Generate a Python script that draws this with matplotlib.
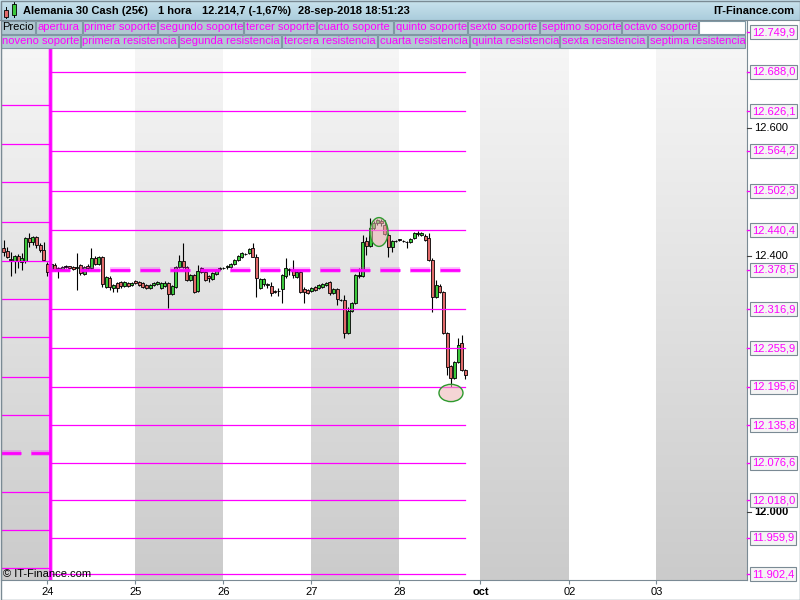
import matplotlib
matplotlib.use("Agg")
import matplotlib.pyplot as plt
import matplotlib.transforms as mtransforms
from matplotlib.patches import Rectangle, Ellipse
from matplotlib.colors import LinearSegmentedColormap
import numpy as np

plt.rcParams['font.family'] = ['Liberation Sans', 'DejaVu Sans']
plt.rcParams['lines.scale_dashes'] = False

# ---- data (hourly candles, hour 0 = 24-sep 00:00) ----
hours = list(range(-12, 115))
opens = [12412.5, 12408, 12395, 12392, 12400, 12391, 12392, 12428, 12422, 12430, 12417, 12409,
         12387.5, 12378, 12386, 12381, 12380, 12383, 12384, 12383, 12381, 12386, 12372, 12384,
         12381, 12397, 12387.5, 12398, 12352, 12366, 12350, 12358, 12359, 12353, 12358, 12355,
         12361, 12359, 12358, 12355, 12350, 12355, 12356, 12350, 12353, 12358, 12341, 12352,
         12383, 12392, 12383, 12362.5, 12370, 12345, 12381, 12375, 12369, 12364, 12372, 12380,
         12381, 12383, 12383, 12387.5, 12394, 12398, 12403, 12405, 12412.5, 12398, 12350, 12356,
         12355, 12353, 12345, 12345, 12348, 12369, 12378, 12378, 12367, 12375, 12348, 12347,
         12345, 12352, 12350, 12352, 12355, 12359, 12342, 12348, 12331, 12331, 12280, 12314,
         12327, 12369, 12369, 12423, 12416, 12444, 12452, 12455, 12448, 12433, 12414, 12423,
         12425, 12423, 12422, 12422, 12428, 12434, 12433, 12431, 12428, 12394, 12336, 12353,
         12344, 12280, 12228, 12209, 12234, 12264, 12222]
closes = [12406, 12398, 12394, 12400, 12392, 12397, 12428, 12422, 12430, 12417, 12409, 12394,
          12375, 12387.5, 12378, 12378, 12383, 12383.5, 12381, 12380, 12383, 12373, 12383, 12381,
          12397, 12387.5, 12398, 12356, 12367, 12352, 12355, 12350, 12353, 12359, 12353, 12358,
          12358, 12355, 12352, 12350, 12355, 12358, 12359, 12358, 12358, 12341, 12353, 12383,
          12392, 12383, 12362.5, 12370, 12344, 12377, 12375, 12362.5, 12366, 12373, 12378, 12381,
          12381.5, 12384, 12387.5, 12394, 12400, 12405, 12403.5, 12411, 12398, 12366, 12364, 12364,
          12356, 12342, 12344, 12345.5, 12370, 12381, 12380, 12370, 12375, 12344, 12344, 12342,
          12350, 12347, 12355, 12356, 12358, 12342, 12348, 12333, 12331.5, 12280, 12314, 12327,
          12370, 12369.5, 12422, 12416, 12444, 12452, 12456, 12452, 12434, 12414, 12423, 12423.5,
          12425.5, 12424, 12421.5, 12427, 12436, 12436, 12436, 12425, 12394, 12336, 12355, 12344,
          12280, 12227, 12209, 12234, 12261, 12222, 12214.7]
highs = [12425, 12414, 12406, 12402, 12403, 12405, 12430, 12436, 12431, 12431, 12420, 12422,
         12391, 12389, 12389, 12383, 12384, 12386, 12385, 12385, 12405, 12387.5, 12384, 12387.5,
         12412.5, 12400, 12400, 12400, 12369, 12369, 12356, 12359, 12361, 12361, 12359, 12359,
         12362, 12361, 12359, 12356, 12356, 12359, 12361, 12359, 12361, 12359, 12355, 12384,
         12402, 12420, 12384, 12372, 12372, 12386, 12383, 12377, 12370, 12375, 12380, 12383,
         12383, 12386, 12389, 12395, 12401, 12406, 12405, 12412, 12420, 12403, 12366, 12366,
         12358, 12359, 12347, 12350, 12372, 12397, 12381, 12394, 12377, 12377, 12352, 12348,
         12352, 12353, 12356, 12358, 12359, 12361, 12350, 12350, 12333, 12339, 12320, 12328,
         12372, 12381, 12433, 12430, 12459, 12455, 12458, 12458, 12456, 12436, 12425, 12425,
         12427, 12425, 12423, 12428, 12437.5, 12439, 12437.5, 12434, 12436, 12397, 12362.5, 12356,
         12345, 12281, 12230, 12236, 12272, 12277, 12223.5]
lows = [12400, 12397, 12369, 12373, 12381, 12378, 12389, 12414, 12417, 12412.5, 12406, 12392,
        12369, 12377, 12377, 12366, 12378, 12381, 12380, 12378, 12347, 12370, 12370, 12378,
        12380, 12386, 12386, 12352, 12350, 12347, 12344, 12344, 12350, 12352, 12352, 12353,
        12356, 12353, 12350, 12349, 12348, 12353, 12355, 12348, 12352, 12319, 12339, 12350,
        12381, 12381, 12361, 12361, 12342, 12344, 12373, 12361, 12359, 12362.5, 12370, 12378,
        12380, 12380, 12381, 12386, 12392, 12397, 12401, 12403, 12398, 12336, 12348, 12353,
        12350, 12337.5, 12342, 12337.5, 12327, 12366, 12370, 12366, 12366, 12342, 12327, 12341,
        12344, 12345, 12348, 12350, 12353, 12339, 12341, 12323, 12330, 12272, 12278, 12312.5,
        12325, 12366, 12367, 12402, 12414, 12441, 12448, 12447, 12433, 12398, 12406, 12422,
        12423, 12422, 12412.5, 12420, 12427, 12431, 12431, 12423, 12392, 12312.5, 12334, 12342,
        12278, 12214, 12195, 12208, 12233, 12220, 12208]

# pivot levels of the current week and of the previous one
apertura = 12378.5
resistencias = [12440.4, 12502.3, 12564.2, 12626.1, 12688.0, 12749.9, 12811.8]
soportes = [12316.9, 12255.9, 12195.6, 12135.8, 12076.6, 12018.0, 11959.9, 11902.4, 11845.0]
prev_apertura = 12091.7
prev_levels = [12635.2, 12575.0, 12515.6, 12453.9, 12392.5, 12333.0, 12272.8,
               12211.4, 12150.9, 12031.3, 11971.9, 11912.5]

price_ticks = [12000, 12400, 12600]
day_ticks = [0, 1, 2, 3, 4, 4.92, 5.93, 6.92]
day_labels = ['24', '25', '26', '27', '28', 'oct', '02', '03']

touch_x = [3.767, 4.585]
touch_y = [12437.5, 12186.0]

title_parts = ['Alemania 30 Cash (25€)', '1 hora', '12.214,7 (-1,67%)', '28-sep-2018 18:51:23']
legend_row1 = ['Precio', 'apertura', 'primer soporte', 'segundo soporte', 'tercer soporte',
               'cuarto soporte', 'quinto soporte', 'sexto soporte', 'septimo soporte', 'octavo soporte']
legend_row2 = ['noveno soporte', 'primera resistencia', 'segunda resistencia', 'tercera resistencia',
               'cuarta resistencia', 'quinta resistencia', 'sexta resistencia', 'septima resistencia']

MAG = '#ff00ff'
GRAY = '#7a8a94'


def fmt_level(v):
    return '{:,.1f}'.format(v).replace(',', 'X').replace('.', ',').replace('X', '.')


W, H = 800, 600
fig = plt.figure(figsize=(8, 6), dpi=100)
fig.patch.set_facecolor('white')
ax = fig.add_axes([1 / W, 20 / H, 746 / W, 560 / H])

xl, xr = (1 - 47.5) / 88, (747 - 47.5) / 88
ylo, yhi = 11893.75, 12768.75

# alternating day columns, grey ones with vertical gradient
cmap = LinearSegmentedColormap.from_list('bg', ['#cbcbcb', '#f8f8f8'])
grad = np.linspace(0, 1, 256).reshape(-1, 1)
bounds = [xl] + day_ticks + [xr]
for i in range(len(bounds) - 1):
    if i % 2 == 0:
        ax.imshow(grad, extent=[bounds[i], bounds[i + 1], ylo, yhi], origin='lower',
                  aspect='auto', cmap=cmap, zorder=0)

# candles
xs = np.array(hours) / 24.0
o = np.array(opens)
c = np.array(closes)
hi = np.maximum(np.array(highs), np.maximum(o, c))
lo = np.minimum(np.array(lows), np.minimum(o, c))
cols = ['#3cc83c' if cc > oo + 0.6 else ('#e06a6a' if cc < oo - 0.6 else 'black') for oo, cc in zip(o, c)]
ax.vlines(xs, lo, hi, color='black', lw=0.8, zorder=3)
ax.bar(xs, np.maximum(np.abs(c - o), 0.8), bottom=np.minimum(o, c), width=0.034,
       color=cols, edgecolor='black', linewidth=0.6, zorder=4)

# pivot lines
x_sw = 0.03
x_end = xs[-1]
for v in resistencias + soportes:
    ax.plot([x_sw, x_end], [v, v], color=MAG, lw=0.9, zorder=5)
for v in prev_levels:
    ax.plot([xl, x_sw], [v, v], color=MAG, lw=0.9, zorder=5)
for (a, b), v in [((x_sw, x_end), apertura), ((xl, x_sw), prev_apertura)]:
    ax.plot([a, b], [v, v], color=MAG, lw=4, alpha=0.3, dashes=(14.4, 7.2), zorder=5)
    ax.plot([a, b], [v, v], color=MAG, lw=2, dashes=(14.4, 7.2), zorder=5)
ax.axvline(x_sw, color=MAG, lw=3.5, alpha=0.35, zorder=5)
ax.axvline(x_sw, color=MAG, lw=2, zorder=5)

# circled touches
for tx, ty, w, h in zip(touch_x, touch_y, [0.205, 0.273], [45, 27]):
    ax.add_patch(Ellipse((tx, ty), w, h, facecolor=(0.93, 0.7, 0.7, 0.55),
                         edgecolor='#2e9a2e', lw=1, zorder=6))

ax.set_xlim(xl, xr)
ax.set_ylim(ylo, yhi)

# axes styling
for s in ax.spines.values():
    s.set_color(GRAY)
ax.set_yticks([])
ax.set_xticks(day_ticks)
ax.set_xticklabels(day_labels, fontsize=8)
for t in ax.get_xticklabels():
    if t.get_text() == 'oct':
        t.set_fontweight('bold')
ax.tick_params(axis='x', length=3, color=GRAY, pad=2)

# right price scale
trans = mtransforms.blended_transform_factory(ax.transAxes, ax.transData)
px = 1 / 746
for v in price_ticks:
    ax.plot([1, 1 + 4 * px], [v, v], transform=trans, color='#404040', lw=0.8, clip_on=False, zorder=5)
    ax.text(1 + 7 * px, v, '{:,.0f}'.format(v).replace(',', '.'), transform=trans, fontsize=8,
            va='center', ha='left', color='black', clip_on=False, zorder=5,
            fontweight='bold' if v == 12000 else 'normal')
for v in [apertura] + resistencias + soportes:
    if ylo < v < yhi:
        ax.plot([1, 1 + 3 * px], [v, v], transform=trans, color=MAG, lw=1, clip_on=False, zorder=7)
        ax.text(1 + 5 * px, v, fmt_level(v), transform=trans, fontsize=8, color=MAG,
                va='center', ha='left', clip_on=False, zorder=7,
                bbox=dict(boxstyle='square,pad=0.18', fc='#f4f4f4', ec=GRAY, lw=0.8))

# overlay in pixel units: header, legend, credits
ov = fig.add_axes([0, 0, 1, 1], zorder=10)
ov.set_xlim(0, W)
ov.set_ylim(H, 0)
ov.axis('off')
ov.patch.set_visible(False)

hcmap = LinearSegmentedColormap.from_list('hd', ['#abcddc', '#cae3ee'])
ov.imshow(grad, extent=[0, W, 20, 0], origin='lower', aspect='auto', cmap=hcmap, zorder=1)
ov.plot([0, W], [20, 20], color=GRAY, lw=0.8, zorder=2)
# small candle icon
ov.plot([5.5, 5.5], [7, 18], color='black', lw=0.7, zorder=3)
ov.add_patch(Rectangle((3.5, 10), 4, 7, fc='#e06a6a', ec='black', lw=0.6, zorder=4))
ov.plot([14, 14], [2, 17], color='black', lw=0.7, zorder=3)
ov.add_patch(Rectangle((12, 4), 4, 11, fc='#3cc83c', ec='black', lw=0.6, zorder=4))
for x0, s in zip([23, 158, 202, 298], title_parts):
    ov.text(x0, 10.5, s, fontsize=8, fontweight='bold', va='center', ha='left', zorder=5)
ov.text(794, 10.5, 'IT-Finance.com', fontsize=8, fontweight='bold', va='center', ha='right', zorder=5)

row1_edges = [0, 35, 82, 157, 243, 316, 393, 467, 539, 621, 698, 745]
row2_edges = [0, 80, 178, 281, 377, 469, 559, 647, 745]
for y0, labels, edges in [(20, legend_row1, row1_edges), (34, legend_row2, row2_edges)]:
    for i in range(len(edges) - 1):
        if i < len(labels):
            ov.add_patch(Rectangle((edges[i] + 0.5, y0 + 0.5), edges[i + 1] - edges[i] - 1, 13,
                                   fc='#b1c8d2', ec='#8098a4', lw=0.8, zorder=3))
            ov.text(edges[i] + 2.5, y0 + 7.5, labels[i], fontsize=8, va='center', ha='left',
                    color='black' if labels[i] == 'Precio' else MAG, zorder=4)
        else:
            ov.add_patch(Rectangle((edges[i] + 0.5, y0 + 0.5), edges[i + 1] - edges[i] - 1, 13,
                                   fc='white', ec='#8098a4', lw=0.8, zorder=3))

ov.text(3, 574, '© IT-Finance.com', fontsize=8, va='center', ha='left', zorder=5)
ov.add_patch(Rectangle((0.5, 0.5), W - 1, H - 1, fill=False, ec=GRAY, lw=1, zorder=6))

fig.savefig('out.png', dpi=100)
